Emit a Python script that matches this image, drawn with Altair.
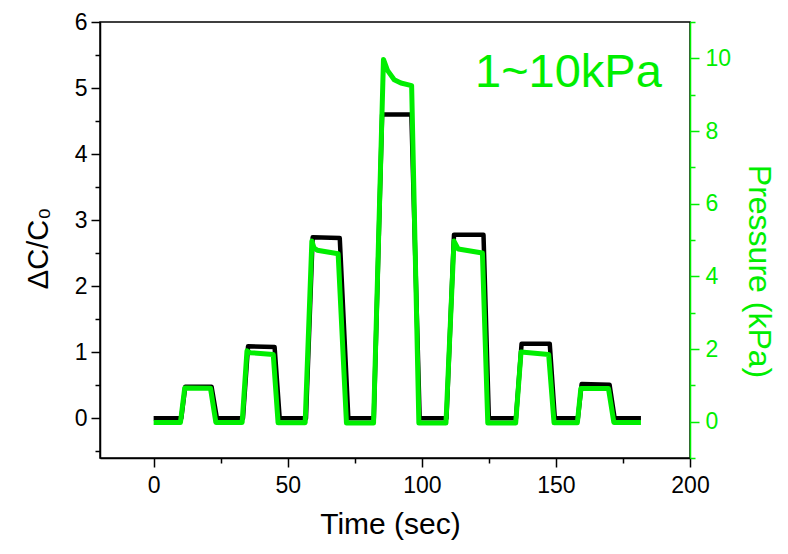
import altair as alt
import pandas as pd

# ---- data ----
time_black = [0, 10.3, 11.8, 21.6, 23.6, 33.3, 35.2, 45.1, 47.0, 56.8, 59.3, 69.4, 72.6,
              82.1, 85.2, 96.1, 99.2, 109.2, 112.0, 123.0, 125.0, 135.1, 137.2, 147.7, 149.6,
              158.2, 159.6, 170.0, 171.9, 181.7]
dc_black = [0.0, 0.0, 0.48, 0.48, 0.0, 0.0, 1.09, 1.08, 0.0, 0.0, 2.74, 2.73, 0.0,
            0.0, 4.6, 4.6, 0.0, 0.0, 2.78, 2.78, 0.0, 0.0, 1.13, 1.13, 0.0,
            0.0, 0.52, 0.51, 0.0, 0.0]

time_green = [0, 10.0, 11.6, 21.2, 23.2, 33.0, 34.8, 36.0, 44.6, 46.4, 56.5, 59.0, 59.8,
              61.0, 68.8, 71.9, 82.0, 85.7, 87.2, 89.7, 92.2, 96.2, 98.9, 109.0, 112.0,
              113.6, 122.6, 124.6, 135.0, 137.0, 147.3, 149.3, 158.0, 159.3, 169.6, 171.6, 181.7]
pressure_green = [-0.02, -0.02, 0.93, 0.92, -0.02, -0.02, 1.95, 1.9, 1.85, -0.03, -0.03, 4.97, 4.78,
                  4.72, 4.62, -0.04, -0.04, 9.97, 9.67, 9.41, 9.32, 9.25, -0.04, -0.04, 4.97,
                  4.75, 4.64, -0.04, -0.04, 1.92, 1.85, -0.03, -0.03, 0.91, 0.91, -0.02, -0.02]

x_tick_values = [0, 25, 50, 75, 100, 125, 150, 175, 200]
left_tick_values = [-0.5, 0, 0.5, 1, 1.5, 2, 2.5, 3, 3.5, 4, 4.5, 5, 5.5, 6]
right_tick_values = [-1, 0, 1, 2, 3, 4, 5, 6, 7, 8, 9, 10, 11]
annotation_text = "1~10kPa"

GREEN = "#00EE00"
FONT = "Liberation Sans"

black_df = pd.DataFrame({"t": time_black, "v": dc_black, "i": range(len(time_black))})
green_df = pd.DataFrame({"t": time_green, "p": pressure_green, "i": range(len(time_green))})

x_axis = alt.Axis(
    values=x_tick_values, format="d",
    labelExpr="datum.value % 50 === 0 ? datum.label : ''",
    tickSize={"condition": {"test": "datum.value % 50 !== 0", "value": 5}, "value": 9},
    title="Time (sec)", titleFont=FONT, titleFontSize=30, titleFontWeight="normal",
    titleColor="black", titleX=290, titleY=75, titleBaseline="alphabetic",
    labelFont=FONT, labelFontSize=23, labelColor="black", labelPadding=7,
    domainColor="black", domainWidth=1.5, tickColor="black", tickWidth=1.5,
    grid=False, labelFlush=False,
)
x_enc = alt.X("t:Q", scale=alt.Scale(domain=[-20, 200], nice=False, zero=False), axis=x_axis)

black = alt.Chart(black_df).mark_line(color="black", strokeWidth=4.5, strokeJoin="round").encode(
    x=x_enc,
    y=alt.Y("v:Q", scale=alt.Scale(domain=[-0.6, 6], nice=False, zero=False),
            axis=alt.Axis(
                orient="left", values=left_tick_values, format="~g",
                labelExpr="datum.value % 1 === 0 ? datum.label : ''",
                tickSize={"condition": {"test": "datum.value % 1 !== 0", "value": 5}, "value": 9},
                title="ΔC/C₀", titleFont=FONT, titleFontSize=29, titleFontWeight="normal",
                titleColor="black", titleX=-62, titleY=226, titleBaseline="middle",
                titleAlign="center", titleAngle=270,
                labelFont=FONT, labelFontSize=23, labelColor="black", labelPadding=4,
                domainColor="black", domainWidth=1.5, tickColor="black", tickWidth=1.5,
                grid=False, labelFlush=False,
            )),
    order="i:Q",
)

green = alt.Chart(green_df).mark_line(color=GREEN, strokeWidth=5, strokeJoin="round").encode(
    x=x_enc,
    y=alt.Y("p:Q", scale=alt.Scale(domain=[-1, 11], nice=False, zero=False),
            axis=alt.Axis(
                orient="right", values=right_tick_values, format="d",
                labelExpr="datum.value % 2 === 0 ? datum.label : ''",
                tickSize={"condition": {"test": "datum.value % 2 !== 0", "value": 5}, "value": 9},
                title="Pressure (kPa)", titleFont=FONT, titleFontSize=32, titleFontWeight="normal",
                titleColor=GREEN, titleX=68, titleY=249, titleBaseline="middle",
                titleAlign="center", titleAngle=90,
                labelFont=FONT, labelFontSize=23, labelColor=GREEN, labelPadding=6,
                domainColor=GREEN, domainWidth=1.5, tickColor=GREEN, tickWidth=1.5,
                grid=False, labelFlush=False,
            )),
    order="i:Q",
)

label = alt.Chart(pd.DataFrame({"txt": [annotation_text]})).mark_text(
    font=FONT, fontSize=47, color=GREEN, align="left", baseline="alphabetic"
).encode(x=alt.value(375), y=alt.value(65), text="txt:N")

chart = alt.layer(black, green, label).resolve_scale(y="independent").properties(
    width=590, height=436,
    autosize=alt.AutoSizeParams(type="none"),
    padding={"left": 92, "top": 14, "right": 90, "bottom": 88},
    background="white",
).configure_view(stroke="black", strokeWidth=1.5)

chart.save("out.html", embed_options={"renderer": "svg", "actions": False})
